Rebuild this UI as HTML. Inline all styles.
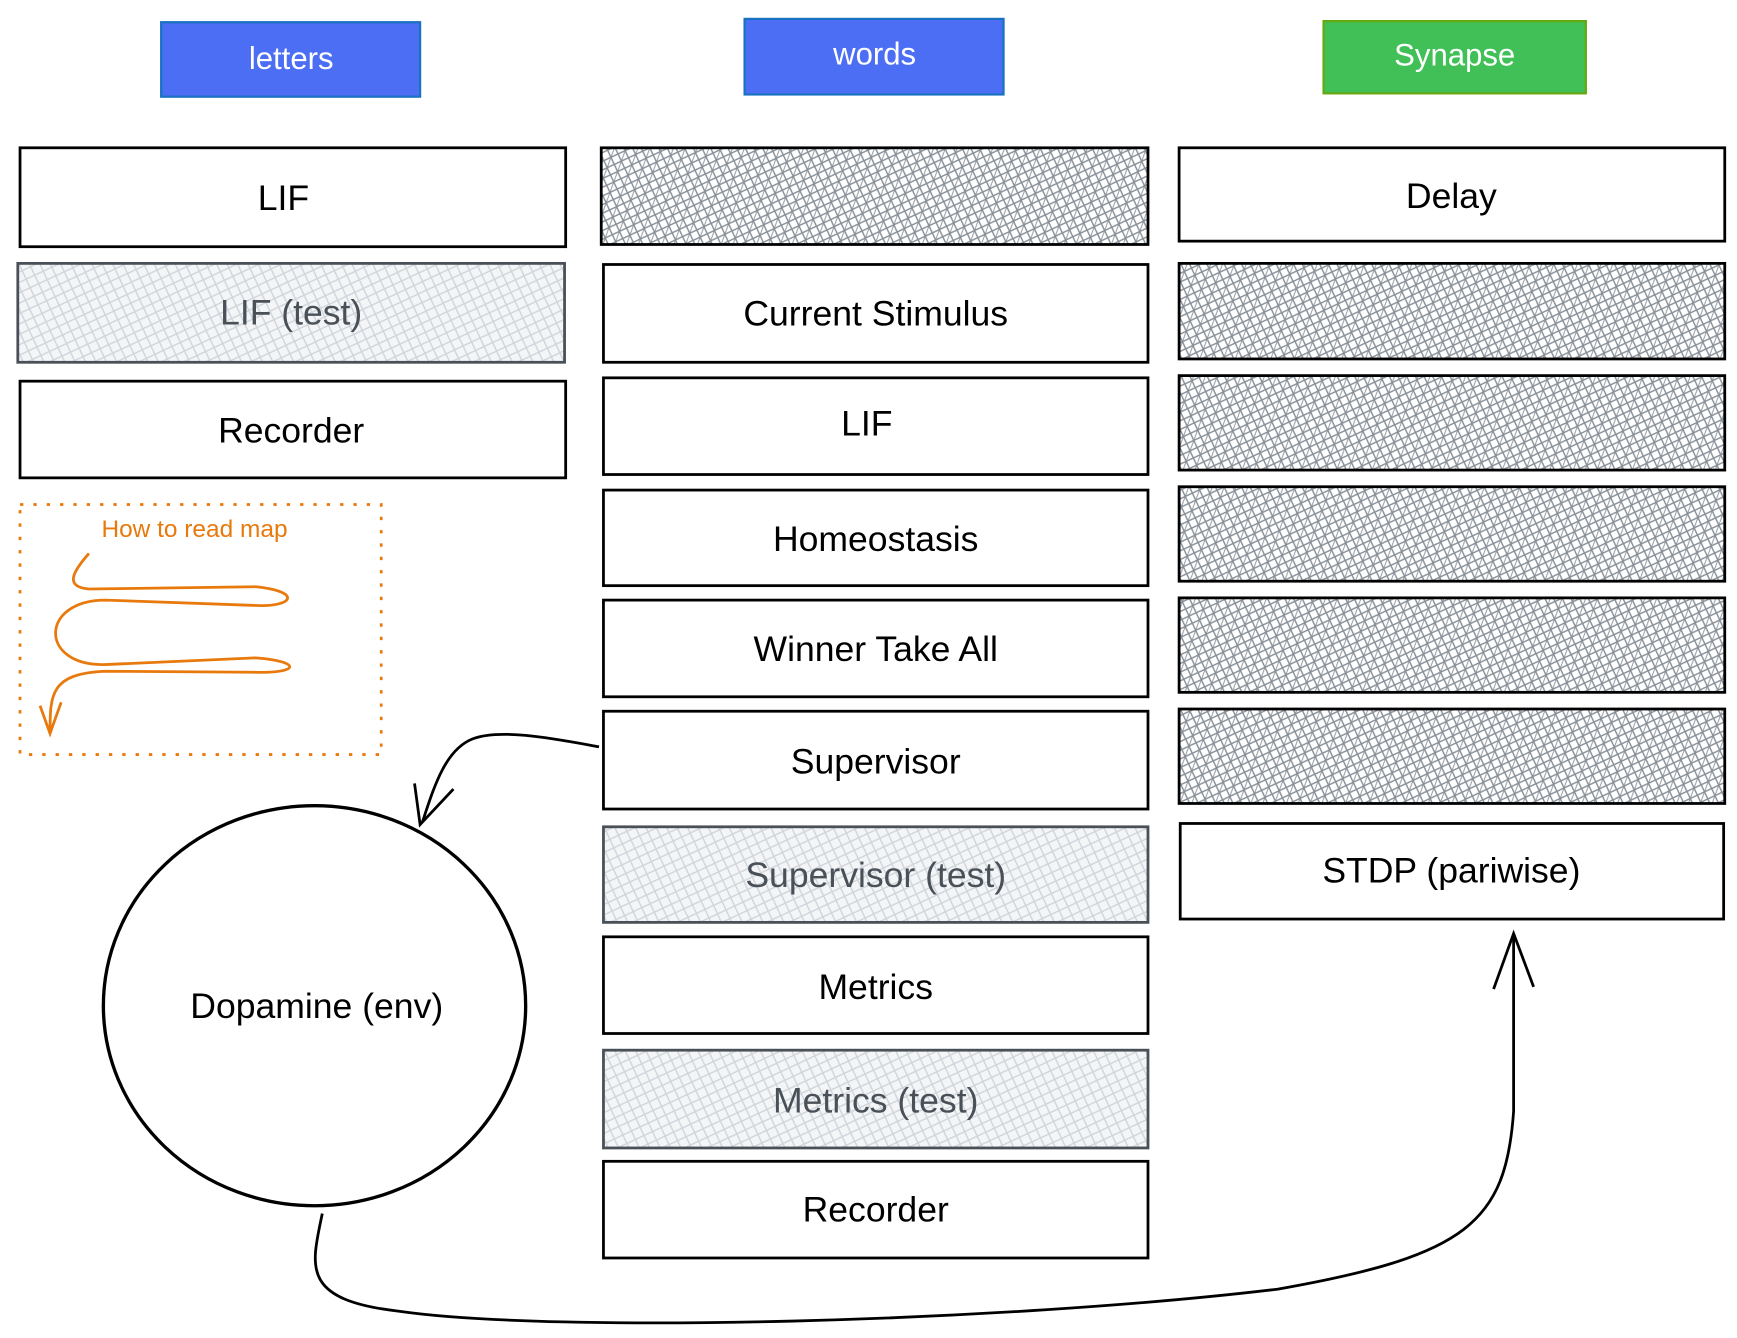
<!DOCTYPE html>
<html><head><meta charset="utf-8"><style>
html,body{margin:0;padding:0;background:#fff;}
svg{display:block;}
text{font-family:"Liberation Sans",sans-serif;}
</style></head><body>
<svg width="1737" height="1338" viewBox="0 0 1563 1204" xmlns="http://www.w3.org/2000/svg">
<defs>
<pattern id="dark" width="10" height="10" patternUnits="userSpaceOnUse" patternTransform="rotate(20)">
<rect width="10" height="10" fill="#fff"/>
<line x1="0" y1="0" x2="10" y2="10" stroke="#868e96" stroke-width="1.3"/>
<line x1="10" y1="0" x2="0" y2="10" stroke="#868e96" stroke-width="1.3"/>
<line x1="5" y1="0" x2="5" y2="10" stroke="#868e96" stroke-width="0.8"/>
</pattern>
<pattern id="light" width="12" height="12" patternUnits="userSpaceOnUse" patternTransform="rotate(20)">
<rect width="12" height="12" fill="#f4f5f7"/>
<line x1="0" y1="0" x2="12" y2="12" stroke="#ced4da" stroke-width="1.2"/>
<line x1="12" y1="0" x2="0" y2="12" stroke="#ced4da" stroke-width="1.2"/>
</pattern>
</defs>

<rect x="145" y="20" width="233" height="67" fill="#4c6ef5" stroke="#1971c2" stroke-width="2"/>
<text x="262" y="62" font-size="28" fill="#fff" text-anchor="middle">letters</text>
<rect x="670" y="17" width="233" height="68" fill="#4c6ef5" stroke="#1971c2" stroke-width="2"/>
<text x="787" y="58" font-size="28" fill="#fff" text-anchor="middle">words</text>
<rect x="1191" y="19" width="236" height="65" fill="#40c057" stroke="#66a80f" stroke-width="2"/>
<text x="1309" y="59" font-size="28" fill="#fff" text-anchor="middle">Synapse</text>

<g stroke="#000" stroke-width="2.5">
<rect x="18" y="133" width="491" height="89" fill="#fff"/>
<rect x="16" y="237" width="492" height="89" fill="url(#light)" stroke="#495057"/>
<rect x="18" y="343" width="491" height="87" fill="#fff"/>
<rect x="541" y="133" width="492" height="87" fill="url(#dark)"/>
<rect x="543" y="238" width="490" height="88" fill="#fff"/>
<rect x="543" y="340" width="490" height="87" fill="#fff"/>
<rect x="543" y="441" width="490" height="86" fill="#fff"/>
<rect x="543" y="540" width="490" height="87" fill="#fff"/>
<rect x="543" y="640" width="490" height="88" fill="#fff"/>
<rect x="543" y="744" width="490" height="86" fill="url(#light)" stroke="#495057"/>
<rect x="543" y="843" width="490" height="87" fill="#fff"/>
<rect x="543" y="945" width="490" height="88" fill="url(#light)" stroke="#495057"/>
<rect x="543" y="1045" width="490" height="87" fill="#fff"/>
<rect x="1061" y="133" width="491" height="84" fill="#fff"/>
<rect x="1061" y="237" width="491" height="86" fill="url(#dark)"/>
<rect x="1061" y="338" width="491" height="85" fill="url(#dark)"/>
<rect x="1061" y="438" width="491" height="85" fill="url(#dark)"/>
<rect x="1061" y="538" width="491" height="85" fill="url(#dark)"/>
<rect x="1061" y="638" width="491" height="85" fill="url(#dark)"/>
<rect x="1062" y="741" width="489" height="86" fill="#fff"/>
</g>

<ellipse cx="283" cy="905" rx="190" ry="180" fill="#fff" stroke="#000" stroke-width="3"/>

<g font-size="32" text-anchor="middle" fill="#000">
<text x="255" y="189">LIF</text>
<text x="262" y="292" fill="#495057">LIF (test)</text>
<text x="262" y="398">Recorder</text>
<text x="788" y="293">Current Stimulus</text>
<text x="780" y="392">LIF</text>
<text x="788" y="496">Homeostasis</text>
<text x="788" y="595">Winner Take All</text>
<text x="788" y="696">Supervisor</text>
<text x="788" y="798" fill="#495057">Supervisor (test)</text>
<text x="788" y="899">Metrics</text>
<text x="788" y="1001" fill="#495057">Metrics (test)</text>
<text x="788" y="1099">Recorder</text>
<text x="1306" y="187">Delay</text>
<text x="1306" y="794">STDP (pariwise)</text>
<text x="285" y="916">Dopamine (env)</text>
</g>

<rect x="18" y="454" width="325" height="225" fill="none" stroke="#e8790c" stroke-width="2.5" stroke-dasharray="3,9"/>
<text x="175" y="483" font-size="22" fill="#e8790c" text-anchor="middle">How to read map</text>
<path d="M80 498 C65 515 58 528 80 530 L230 528 C270 532 265 545 235 545 L95 540 C35 540 35 600 95 598 L230 592 C270 595 270 605 235 605 L95 604 C45 606 45 625 45 660" fill="none" stroke="#e8790c" stroke-width="2.5"/>
<path d="M36 635 L45 660 L55 632" fill="none" stroke="#e8790c" stroke-width="2.5"/>

<path d="M539 672 C500 665 450 655 425 665 C400 675 390 710 380 740" fill="none" stroke="#000" stroke-width="2.5"/>
<path d="M373 705 L378 742 L408 710" fill="none" stroke="#000" stroke-width="2.5"/>
<path d="M290 1092 C280 1140 270 1170 360 1180 C500 1200 900 1190 1150 1160 C1320 1130 1355 1100 1362 1000 L1362 840" fill="none" stroke="#000" stroke-width="2.5"/>
<path d="M1344 890 L1362 840 L1380 888" fill="none" stroke="#000" stroke-width="2.5"/>
</svg>
</body></html>
